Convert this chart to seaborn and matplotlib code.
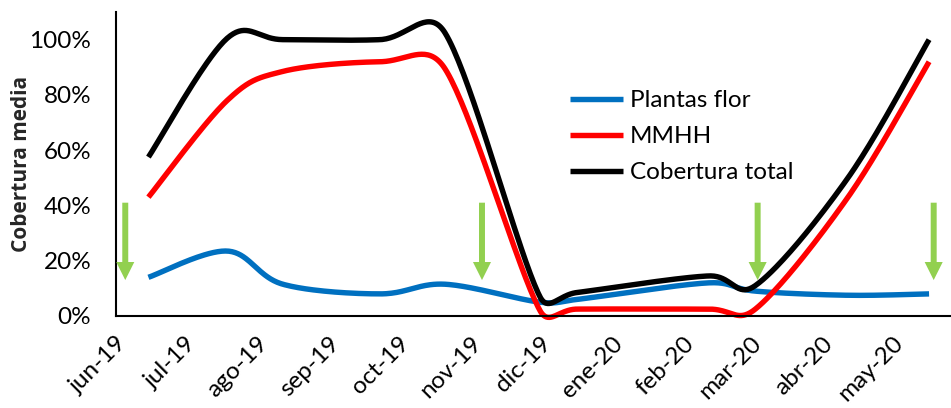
import numpy as np
import pandas as pd
import matplotlib
matplotlib.use("Agg")
import matplotlib.pyplot as plt
import seaborn as sns

# ---------------- data ----------------
sample_dates = ["2019-06-15", "2019-07-19", "2019-08-12", "2019-09-23", "2019-10-21",
                "2019-12-01", "2019-12-17", "2020-02-12", "2020-03-03",
                "2020-04-12", "2020-05-17"]
plantas_flor = [14, 23.5, 11.5, 8, 11.5, 5, 6, 12, 9, 7.5, 8]
mmhh = [43, 78, 88.5, 92, 89.5, 2, 2.5, 2.5, 2.5, 43, 92]
cobertura_total = [57.5, 100.5, 100, 100, 102.5, 7, 8.5, 14.5, 11, 50, 100]
series_names = ["Plantas flor", "MMHH", "Cobertura total"]
series_colors = ["#0070C0", "#FF0000", "#000000"]
arrow_dates = ["2019-06-05", "2019-11-06", "2020-03-04", "2020-05-19"]
arrow_top, arrow_tip = 41, 13
month_labels = ["jun-19", "jul-19", "ago-19", "sep-19", "oct-19", "nov-19",
                "dic-19", "ene-20", "feb-20", "mar-20", "abr-20", "may-20"]
y_ticks = [0, 20, 40, 60, 80, 100]

origin = pd.Timestamp("2019-06-01")
def day(s):
    return (pd.Timestamp(s) - origin).days

x_days = np.array([day(d) for d in sample_dates], dtype=float)
month_pos = [(d - origin).days for d in pd.date_range("2019-06-01", periods=12, freq="MS")]

# plot geometry (used only for Excel-like smoothing in screen space)
PX_PER_DAY = 2.3164
PX_PER_UNIT = 2.77

def excel_smooth(xs, ys, n=40):
    P = np.column_stack([np.asarray(xs) * PX_PER_DAY, np.asarray(ys) * PX_PER_UNIT])
    m = len(P)
    cin = np.zeros_like(P)
    cout = np.zeros_like(P)
    for i in range(m):
        p0 = P[max(i - 1, 0)]
        p2 = P[min(i + 1, m - 1)]
        p1 = P[i]
        d02 = np.linalg.norm(p2 - p0)
        d01 = np.linalg.norm(p1 - p0)
        d12 = np.linalg.norm(p2 - p1)
        fin = fout = 1 / 6
        if d02 > 0 and 0 < i < m - 1:
            fin = min(1 / 6, d01 / (2 * d02))
            fout = min(1 / 6, d12 / (2 * d02))
        cin[i] = p1 - fin * (p2 - p0)
        cout[i] = p1 + fout * (p2 - p0)
    pts = []
    t = np.linspace(0, 1, n)[:, None]
    for i in range(m - 1):
        a, b, c, d = P[i], cout[i], cin[i + 1], P[i + 1]
        seg = ((1 - t) ** 3) * a + 3 * ((1 - t) ** 2) * t * b + 3 * (1 - t) * t ** 2 * c + t ** 3 * d
        pts.append(seg if i == 0 else seg[1:])
    pts = np.vstack(pts)
    return pts[:, 0] / PX_PER_DAY, pts[:, 1] / PX_PER_UNIT

# ---------------- figure ----------------
sns.set_theme(style="white")
plt.rcParams["font.family"] = ["Lato", "DejaVu Sans"]

fig = plt.figure(figsize=(9.51, 4.08), dpi=100)
ax = fig.add_axes([116 / 951, 92 / 408, 1 - 116 / 951, (316 - 12) / 408])

frames = []
for name, vals in zip(series_names, [plantas_flor, mmhh, cobertura_total]):
    sx, sy = excel_smooth(x_days, vals)
    frames.append(pd.DataFrame({"x": sx, "y": sy, "serie": name}))
df = pd.concat(frames, ignore_index=True)

for name, col in zip(series_names, series_colors):
    sub = df[df["serie"] == name]
    sns.lineplot(data=sub, x="x", y="y", color=col, lw=3.9, sort=False,
                 estimator=None, ax=ax, label=name, solid_capstyle="butt",
                 clip_on=False)

for d in arrow_dates:
    xd = day(d)
    ax.annotate("", xy=(xd, arrow_tip), xytext=(xd, arrow_top),
                arrowprops=dict(facecolor="#92D050", edgecolor="none", width=4.3,
                                headwidth=13, headlength=13, shrink=0))

ax.set_xlim(0, (951 - 116) / PX_PER_DAY)
ax.set_ylim(0, 110)
ax.set_xticks(month_pos)
ax.set_xticklabels(month_labels, rotation=45, ha="right", va="top",
                   rotation_mode="anchor", fontsize=17.5)
ax.set_yticks(y_ticks)
ax.set_yticklabels([f"{v}%" for v in y_ticks], fontsize=17.5)
ax.set_xlabel("")
ax.set_ylabel("Cobertura media", fontsize=15, fontweight="bold",
              family=["Open Sans", "DejaVu Sans"])
ax.yaxis.set_label_coords((32 - 116) / 835, (316 - 164) / 304)

for s in ["top", "right"]:
    ax.spines[s].set_visible(False)
for s in ["left", "bottom"]:
    ax.spines[s].set_color("black")
    ax.spines[s].set_linewidth(1.5)
ax.tick_params(axis="y", direction="inout", length=11.5, width=1.5, color="black", pad=12)
ax.tick_params(axis="x", direction="out", length=6, width=1.5, color="black", pad=6)
ax.tick_params(labelcolor="black")

leg = ax.legend(loc="upper left", bbox_to_anchor=(570 / 951, (408 - 90) / 408),
                bbox_transform=fig.transFigure, frameon=False, fontsize=17.5,
                handlelength=2.2, handletextpad=0.25, labelspacing=0.62,
                borderpad=0, borderaxespad=0)
for line in leg.get_lines():
    line.set_linewidth(3.9)
for t in leg.get_texts():
    t.set_color("black")

fig.savefig("out.png", dpi=100)
